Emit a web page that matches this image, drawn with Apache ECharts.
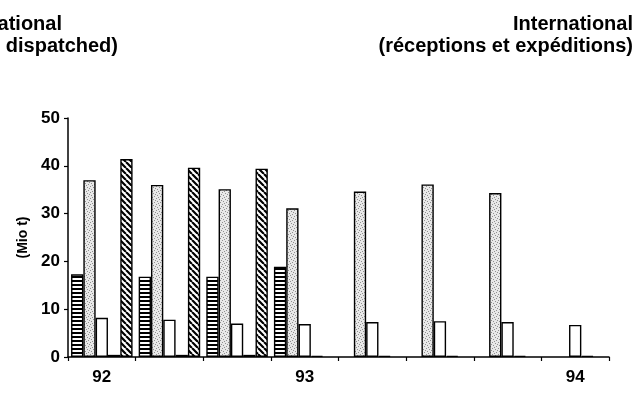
<!DOCTYPE html>
<html>
<head>
<meta charset="utf-8">
<script src="https://cdn.jsdelivr.net/npm/echarts@6/dist/echarts.min.js"></script>
<style>
  html, body { margin: 0; padding: 0; background: #fff; }
  #chart { width: 637px; height: 394px; }
</style>
</head>
<body>
<div id="chart"></div>
<script>
// categories (one bar group per period) and the labels printed under them
const categories = ['92a', '92b', '92c', '93a', '93b', '93c', '93d', '94a'];
const tickLabels = ['92', '', '', '93', '', '', '', '94'];

// series values (Mio t)
const striped = [17.3, 16.8, 16.8, 18.9, null, null, null, null];
const dotted = [37.0, 36.0, 35.1, 31.1, 34.6, 36.1, 34.3, null];
const plain = [8.2, 7.8, 7.0, 6.9, 7.3, 7.5, 7.3, 6.7];
const solid = [0.45, 0.45, 0.45, 0.25, 0.25, 0.25, 0.25, 0.25];
const hatched = [41.4, 39.6, 39.4, null, null, null, null, null];

const yTicks = { min: 0, max: 50, step: 10 };

// fill patterns, drawn on small canvases
function makePattern(w, h, draw) {
  const c = document.createElement('canvas');
  c.width = w;
  c.height = h;
  const ctx = c.getContext('2d');
  draw(ctx);
  return { image: c, repeat: 'repeat' };
}

const stripeFill = makePattern(4, 4, ctx => {
  ctx.fillStyle = '#fff';
  ctx.fillRect(0, 0, 4, 4);
  ctx.fillStyle = '#000';
  ctx.fillRect(0, 0, 4, 2);
});

const dotFill = makePattern(6, 6, ctx => {
  ctx.fillStyle = '#e8e8e8';
  ctx.fillRect(0, 0, 6, 6);
  ctx.fillStyle = '#909090';
  [[0, 0], [3, 1], [1, 3], [4, 4], [2, 5], [5, 2]].forEach(p => ctx.fillRect(p[0], p[1], 1, 1));
});

const hatchFill = makePattern(6, 6, ctx => {
  ctx.fillStyle = '#fff';
  ctx.fillRect(0, 0, 6, 6);
  ctx.strokeStyle = '#000';
  ctx.lineWidth = 2.2;
  ctx.beginPath();
  for (let k = -6; k <= 6; k += 6) {
    ctx.moveTo(k, 0);
    ctx.lineTo(k + 6, 6);
  }
  ctx.stroke();
});

function barSeries(name, data, fill) {
  return {
    name: name,
    type: 'bar',
    data: data,
    barGap: '0%',
    barCategoryGap: '9%',
    itemStyle: { color: fill, borderColor: '#000', borderWidth: 1.4 }
  };
}

const chart = echarts.init(document.getElementById('chart'));
const fontFamily = '"Liberation Sans", Arial, sans-serif';
const titleFont = 'bold 20px ' + fontFamily;

chart.setOption({
  animation: false,
  backgroundColor: '#fff',
  grid: { left: 68, right: 28, top: 118, bottom: 37 },
  graphic: [
    { type: 'text', right: 4, top: 14, style: { text: 'International', font: titleFont, fill: '#000' } },
    { type: 'text', right: 4, top: 36, style: { text: '(réceptions et expéditions)', font: titleFont, fill: '#000' } },
    { type: 'text', right: 575, top: 14, style: { text: 'International', font: titleFont, fill: '#000' } },
    { type: 'text', right: 519, top: 36, style: { text: '(received and dispatched)', font: titleFont, fill: '#000' } }
  ],
  xAxis: {
    type: 'category',
    data: categories,
    axisLine: { lineStyle: { color: '#000', width: 1.5 } },
    axisTick: { show: true, length: 4, lineStyle: { color: '#000', width: 1.2 } },
    axisLabel: {
      interval: 0,
      margin: 12,
      color: '#000',
      fontFamily: fontFamily,
      fontWeight: 'bold',
      fontSize: 17,
      formatter: (v, i) => tickLabels[i]
    }
  },
  yAxis: {
    type: 'value',
    min: yTicks.min,
    max: yTicks.max,
    interval: yTicks.step,
    name: '(Mio t)',
    nameLocation: 'middle',
    nameGap: 37,
    nameRotate: 90,
    nameTextStyle: { color: '#000', fontFamily: fontFamily, fontWeight: 'bold', fontSize: 14 },
    splitLine: { show: false },
    axisLine: { show: true, lineStyle: { color: '#000', width: 1.5 } },
    axisTick: { show: true, length: 4, lineStyle: { color: '#000', width: 1.2 } },
    axisLabel: {
      margin: 8,
      color: '#000',
      fontFamily: fontFamily,
      fontWeight: 'bold',
      fontSize: 17
    }
  },
  series: [
    barSeries('striped', striped, stripeFill),
    barSeries('dotted', dotted, dotFill),
    barSeries('plain', plain, '#fff'),
    barSeries('solid', solid, '#000'),
    barSeries('hatched', hatched, hatchFill)
  ]
});
</script>
</body>
</html>
